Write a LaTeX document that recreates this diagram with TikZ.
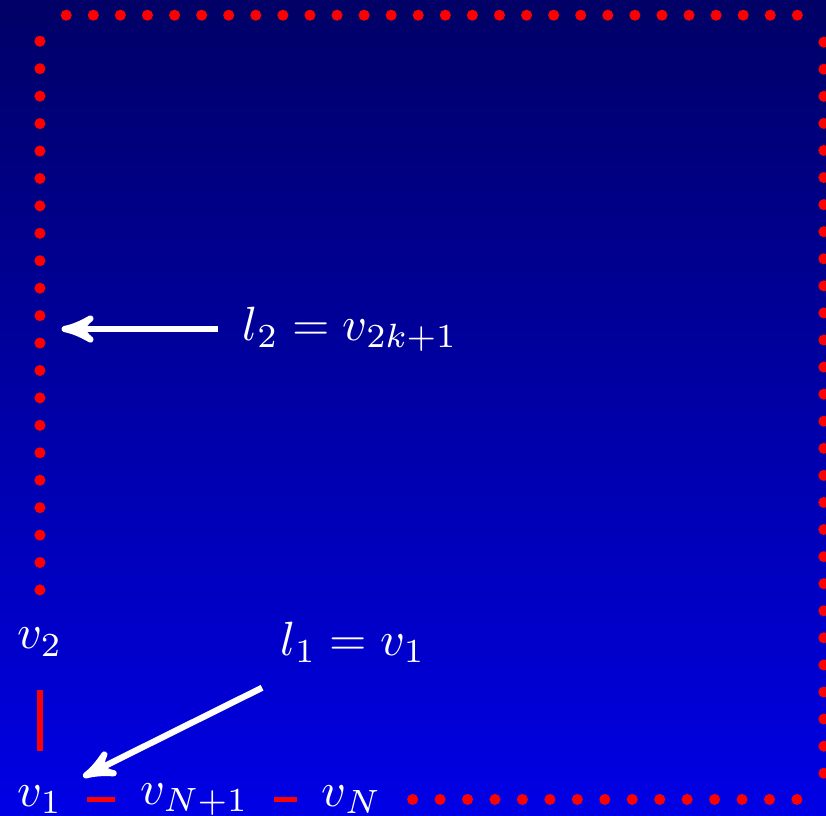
\documentclass[tikz,border=0pt]{standalone}
\usepackage{tikz}
\usetikzlibrary{arrows,arrows.meta}

\begin{document}
\begin{tikzpicture}[x=0.2cm,y=0.2cm,
  vtx/.style={text=white,inner sep=5pt},
  edge/.style={red,line width=1.1pt},
  pointer/.style={white,line width=1.3pt,-stealth'}]
% background
\shade[top color=blue!40!black,bottom color=blue!90!black] (-1.46,-0.6) rectangle (28.74,29.23);
\useasboundingbox (-1.46,-0.6) rectangle (28.74,29.23);
% vertices
\node[vtx] (v1) at (0,0) {$v_1$};
\node[vtx] (vN1) at (5.65,0) {$v_{N+1}$};
\node[vtx] (vN) at (11.4,0) {$v_N$};
\node[vtx] (v2) at (0,5.75) {$v_2$};
% labels
\node[vtx] (l1) at (11.45,5.74) {$l_1 = v_1$};
\node[vtx] (l2) at (11.35,17.2) {$l_2 = v_{2k+1}$};
\coordinate (p1) at (1.58,0.83);
\coordinate (p2) at (0.79,17.2);
% edges
\draw[edge,shorten <=1.9pt,shorten >=1.9pt] (v1) -- (v2);
\draw[edge] (v1) -- (vN1);
\draw[edge] (vN1) -- (vN);
% the long way round
\foreach \i in {0,...,20} \fill[red] (0,7.66+1.003*\i) circle (1.15pt);
\foreach \i in {0,...,27} {
  \fill[red] (0.962+0.99*\i,28.673) circle (1.15pt);
  \fill[red] (28.662,0.958+0.99*\i) circle (1.15pt);
}
\foreach \i in {0,...,14} \fill[red] (13.627+1.0036*\i,0) circle (1.15pt);
% pointers
\draw[pointer] (l1) -- (p1);
\draw[pointer] (l2) -- (p2);
\end{tikzpicture}
\end{document}
